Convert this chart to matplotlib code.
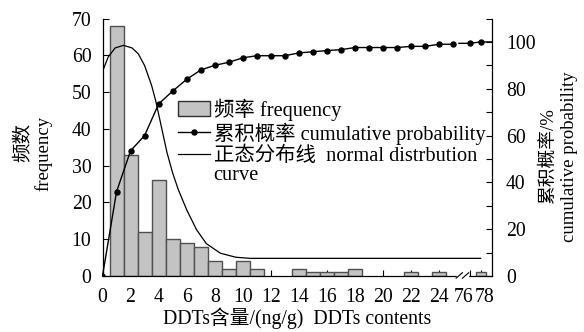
import matplotlib
matplotlib.use("Agg")
import matplotlib.pyplot as plt
from matplotlib.lines import Line2D
from matplotlib.patches import Patch
from matplotlib.transforms import ScaledTranslation

plt.rcParams['font.family'] = ['Liberation Serif', 'Noto Sans CJK SC']

# ---------------- data ----------------
freq_x = [1, 2, 3, 4, 5, 6, 7, 8, 9, 10, 11, 14, 15, 16, 17, 18, 22, 24, 78]
freq_y = [68, 33, 12, 26, 10, 9, 8, 4, 2, 4, 2, 2, 1, 1, 1, 2, 1, 1, 1]

cum_x = list(range(0, 26)) + [76, 78]
cum_y = [0, 36, 53.5, 60, 73.5, 79, 84, 88, 90, 91.3, 93.2, 94.1, 94.1, 94.1,
         95.3, 95.8, 96.3, 96.7, 97.6, 97.6, 97.6, 97.6, 98.1, 98.1, 99.0, 99.0,
         99.4, 100]

# normal distribution curve (x, frequency units)
norm_x = [0, 0.4, 0.9, 1.5, 2.1, 2.55, 3.0, 3.5, 3.8, 4.2, 4.6, 5.0, 5.4,
          6.0, 6.7, 7.4, 8.4, 9.5, 10.5, 78]
norm_y = [55.6, 59.5, 62.0, 62.7, 62.0, 60.4, 57.2, 51.8, 47.5, 40.5, 33.5,
          28.0, 23.5, 18.0, 12.6, 8.8, 6.2, 5.1, 4.8, 4.8]

tick_vals = [0, 2, 4, 6, 8, 10, 12, 14, 16, 18, 20, 22, 24, 76, 78]

legend_labels = ['频率 frequency', '累积概率 cumulative probability',
                 '正态分布线  normal distrbution']


def to_pos(x):
    """broken x axis: 0-25 linear, then 76-78 compressed after the break"""
    if x <= 25:
        return x
    return 26.2 + (x - 76) * 0.375


XMAX = 27.76

fig = plt.figure(figsize=(5.84, 3.32), dpi=100)
L, R, B, T = 102.5 / 584, 492 / 584, 1 - 276 / 332, 1 - 18.5 / 332
ax = fig.add_axes([L, B, R - L, T - B])
ax2 = ax.twinx()

FS_TICK = 14.2
FS_LEG = 14.7
FS_LAB = 13.5
bar_face = '#c3c3c3'
bar_edge = '#505050'

# bars
for x, y in zip(freq_x, freq_y):
    w = 1.0 if x <= 25 else 0.72
    ax.bar(to_pos(x), y, width=w, color=bar_face, edgecolor=bar_edge,
           linewidth=1.0, zorder=2)

# normal curve (left axis units)
nx = [min(to_pos(v), XMAX) for v in norm_x]
ax.plot(nx, norm_y, color='black', linewidth=0.9, zorder=3)

ax.set_xlim(0, XMAX)
ax.set_ylim(0, 70)
ax.set_yticks(range(0, 71, 10))
ax.tick_params(axis='y', direction='in', length=4, width=0.8,
               labelsize=FS_TICK, pad=8)
ax.spines['top'].set_visible(False)
ax.spines['right'].set_visible(False)
for s in ['left', 'bottom']:
    ax.spines[s].set_linewidth(0.9)

# x ticks
tpos = [to_pos(v) for v in tick_vals]
ax.set_xticks(tpos)
ax.set_xticklabels([str(v) for v in tick_vals])
ax.tick_params(axis='x', direction='in', length=4, width=0.8,
               labelsize=FS_TICK, pad=9)
labs = ax.get_xticklabels()
labs[-2].set_transform(labs[-2].get_transform() + ScaledTranslation(-6 / 100, 0, fig.dpi_scale_trans))
labs[-1].set_transform(labs[-1].get_transform() + ScaledTranslation(4 / 100, 0, fig.dpi_scale_trans))

# cumulative curve on right axis
cp = [to_pos(v) for v in cum_x]
n1 = cum_x.index(25) + 1
ax2.plot(cp[:n1], cum_y[:n1], color='black', linewidth=1.0, marker='o',
         markersize=3.6, zorder=4)
ax2.plot(cp[n1:], cum_y[n1:], color='black', linewidth=0, marker='o',
         markersize=3.6, zorder=4)
ax2.plot([25.4] + cp[n1:] + [XMAX], [cum_y[n1]] + cum_y[n1:] + [cum_y[-1]],
         color='black', linewidth=1.0, zorder=4)
ax2.set_ylim(0, 110)
ax2.set_yticks(range(0, 111, 10))
ax2.set_yticklabels([str(v) if v % 20 == 0 and v <= 100 else '' for v in range(0, 111, 10)])
ax2.tick_params(axis='y', direction='in', length=4, width=0.8,
                labelsize=FS_TICK, pad=10)
ax2.spines['top'].set_visible(False)
ax2.spines['left'].set_visible(False)
ax2.spines['bottom'].set_visible(False)
ax2.spines['right'].set_linewidth(0.9)

# axis break marks
bx0, bx1 = 25.3, 26.0
ax.plot([bx0 + 0.05, bx1 - 0.05], [0, 0], color='white', linewidth=2.5,
        clip_on=False, zorder=5)
for dx in (0.0, 0.45):
    ax.plot([bx0 + dx - 0.1, bx0 + dx + 0.35], [-0.6, 0.9], color='black',
            linewidth=0.8, clip_on=False, zorder=6)

# legend
handles = [Patch(facecolor=bar_face, edgecolor='#303030', linewidth=1.0),
           Line2D([], [], color='black', linewidth=1.0, marker='o', markersize=3.6),
           Line2D([], [], color='black', linewidth=0.9)]
leg = fig.legend(handles, legend_labels, loc='upper left',
                 bbox_to_anchor=(178 / 584, 1 - 98.5 / 332), frameon=False,
                 fontsize=FS_LEG, handlelength=1.55, handleheight=0.75,
                 handletextpad=0.2, labelspacing=0.08, borderpad=0,
                 borderaxespad=0)
fig.text(213 / 584, 1 - 176 / 332, 'curve', fontsize=FS_LEG, ha='left',
         va='center')

# axis labels
fig.text(297 / 584, 1 - 318 / 332, 'DDTs含量/(ng/g)  DDTs contents',
         fontsize=14.2, ha='center', va='center')
fig.text(24 / 584, 1 - 142 / 332, '频数', fontsize=FS_LAB + 0.5, rotation=90,
         ha='center', va='center')
fig.text(44 / 584, 1 - 153 / 332, 'frequency', fontsize=FS_LAB, rotation=90,
         ha='center', va='center')
fig.text(548 / 584, 1 - 156 / 332, '累积概率/%', fontsize=FS_LAB, rotation=90,
         ha='center', va='center')
fig.text(570 / 584, 1 - 157 / 332, 'cumulative probability', fontsize=FS_LAB,
         rotation=90, ha='center', va='center')

fig.savefig('out.png', dpi=100)
